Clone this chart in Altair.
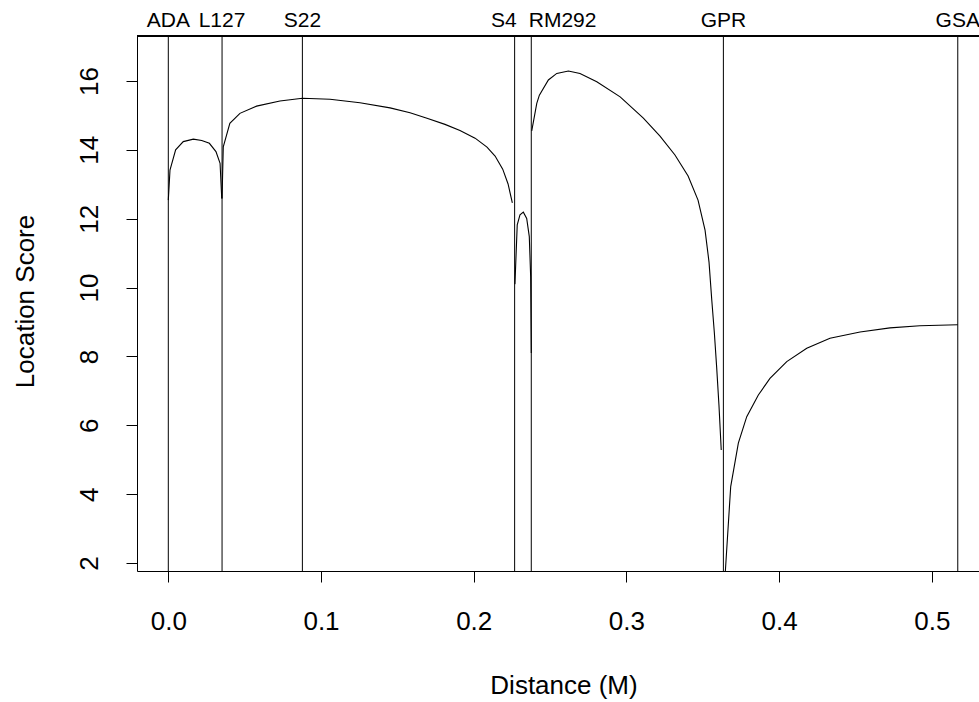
import altair as alt
import pandas as pd

# ---- data ----
marker_names = ["ADA", "L127", "S22", "S4", "RM292", "GPR", "GSA"]
marker_pos = [0.0, 0.0352, 0.0878, 0.2268, 0.2377, 0.3635, 0.5170]
label_pos = [0.0, 0.0352, 0.0878, 0.2198, 0.2582, 0.3635, 0.5170]

seg1_x = [0.0, 0.0011, 0.0048, 0.0098, 0.0164, 0.0219, 0.0269, 0.0312, 0.0339, 0.0350]
seg1_y = [12.54, 13.41, 14.00, 14.24, 14.31, 14.27, 14.19, 13.95, 13.61, 12.59]

seg2_x = [0.0352, 0.0360, 0.0403, 0.0469, 0.0578, 0.0731, 0.0878, 0.1059, 0.1255,
          0.1452, 0.1583, 0.1694, 0.1812, 0.1910, 0.2009, 0.2087, 0.2140, 0.2190,
          0.2225, 0.2253]
seg2_y = [12.59, 14.09, 14.77, 15.06, 15.27, 15.42, 15.50, 15.47, 15.37,
          15.22, 15.08, 14.92, 14.74, 14.56, 14.34, 14.08, 13.82, 13.44,
          13.01, 12.46]

seg3_x = [0.2270, 0.2285, 0.2303, 0.2325, 0.2347, 0.2364, 0.2373, 0.2377]
seg3_y = [10.10, 11.82, 12.11, 12.19, 12.01, 11.48, 10.32, 8.10]

seg4_x = [0.2380, 0.2413, 0.2430, 0.2489, 0.2544, 0.2620, 0.2696, 0.2806, 0.2959,
          0.3111, 0.3220, 0.3318, 0.3404, 0.3469, 0.3515, 0.3541, 0.3559, 0.3576,
          0.3591, 0.3606, 0.3621]
seg4_y = [14.55, 15.35, 15.59, 16.03, 16.22, 16.29, 16.22, 15.98, 15.54,
          14.92, 14.40, 13.85, 13.24, 12.54, 11.67, 10.74, 9.64, 8.68,
          7.69, 6.59, 5.28]

seg5_x = [0.3648, 0.3683, 0.3733, 0.3788, 0.3864, 0.3940, 0.4050, 0.4181, 0.4333,
          0.4530, 0.4726, 0.4922, 0.5170]
seg5_y = [1.77, 4.22, 5.48, 6.25, 6.88, 7.36, 7.85, 8.24, 8.53,
          8.71, 8.83, 8.89, 8.92]

x_ticks = [0.0, 0.1, 0.2, 0.3, 0.4, 0.5]
y_ticks = [2, 4, 6, 8, 10, 12, 14, 16]

# ---- tables ----
rows = []
for i, (xs, ys) in enumerate([(seg1_x, seg1_y), (seg2_x, seg2_y), (seg3_x, seg3_y),
                              (seg4_x, seg4_y), (seg5_x, seg5_y)]):
    for j, (a, b) in enumerate(zip(xs, ys)):
        rows.append({"seg": i, "order": j, "dist": a, "score": b})
curve = pd.DataFrame(rows)
markers = pd.DataFrame({"name": marker_names, "pos": marker_pos, "lab": label_pos})

W, H = 842, 535
FONT = "Liberation Sans"

xscale = alt.Scale(domain=[-0.0205, 0.5309], nice=False, zero=False)
yscale = alt.Scale(domain=[1.768, 17.307], nice=False, zero=False)

xaxis = alt.Axis(values=x_ticks, format=".1f", title="Distance (M)", grid=False,
                 tickSize=11, labelPadding=47, labelBaseline="alphabetic",
                 labelFontSize=26, titleFontSize=26, titleFontWeight="normal",
                 titleX=426.5, titleY=122, titleBaseline="alphabetic", titleAlign="center",
                 domainColor="black", tickColor="black", labelColor="black", titleColor="black",
                 labelFont=FONT, titleFont=FONT)
yaxis = alt.Axis(values=y_ticks, format="d", title="Location Score", grid=False,
                 tickSize=11, labelAngle=270, labelAlign="center", labelBaseline="alphabetic",
                 labelPadding=29, labelFontSize=26, titleFontSize=26, titleFontWeight="normal",
                 titleAngle=270, titleX=-104, titleY=265, titleBaseline="alphabetic",
                 titleAlign="center",
                 domainColor="black", tickColor="black", labelColor="black", titleColor="black",
                 labelFont=FONT, titleFont=FONT)

line = alt.Chart(curve).mark_line(color="black", strokeWidth=1.1, clip=True).encode(
    x=alt.X("dist:Q", scale=xscale, axis=xaxis),
    y=alt.Y("score:Q", scale=yscale, axis=yaxis),
    detail="seg:N",
    order="order:Q",
)

vlines = alt.Chart(markers).mark_rule(color="black", strokeWidth=1).encode(
    x=alt.X("pos:Q", scale=xscale),
    y=alt.value(0),
    y2=alt.value(H),
)

labels = alt.Chart(markers).mark_text(font=FONT, fontSize=21, baseline="alphabetic",
                                      align="center", color="black").encode(
    x=alt.X("lab:Q", scale=xscale),
    y=alt.value(-9.3),
    text="name:N",
)

topline = alt.Chart(markers).mark_rule(color="black", strokeWidth=1).encode(
    x=alt.value(0), x2=alt.value(W), y=alt.value(0)
)

chart = alt.layer(line, vlines, labels, topline).properties(
    width=W, height=H,
    autosize=alt.AutoSizeParams(type="none"),
    padding={"left": 137, "top": 36, "right": 0, "bottom": 131},
    background="white",
).configure_view(stroke=None)

chart.save("out.html", embed_options={"renderer": "svg", "actions": False})
